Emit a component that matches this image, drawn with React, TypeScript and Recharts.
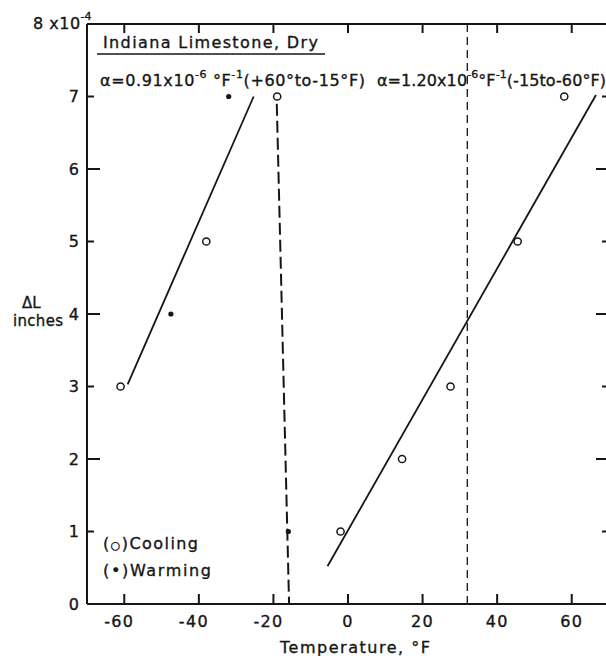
import React from "react";
import { ScatterChart, Scatter, XAxis, YAxis, ReferenceLine } from "recharts";

const xTicks = [-60, -40, -20, 0, 20, 40, 60];
const yTicks = [0, 1, 2, 3, 4, 5, 6, 7, 8];
const xDomain = [-70, 70];
const yDomain = [0, 8];

// measured points, temperature (°F) vs ΔL (x10^-4 in)
const coolingTemp = [-61, -38, -19, -2, 14.5, 27.5, 45.5, 58];
const coolingDL = [3, 5, 7, 1, 2, 3, 5, 7];
const warmingTemp = [-47.5, -32, -16];
const warmingDL = [4, 7, 1];

// fitted lines (end points)
const fitColdTemp = [-59.1, -25.3];
const fitColdDL = [3.03, 7.0];
const fitWarmTemp = [-5.5, 66.5];
const fitWarmDL = [0.52, 7.02];

// jump at the transition, and the 32°F marker
const jumpTemp = [-19.1, -15.8];
const jumpDL = [6.9, 0];
const freezeTemp = 32;

const ink = "#161616";
const font = "'DejaVu Sans', sans-serif";
const axisStroke = { stroke: ink, strokeWidth: 2 };

// chart box and plot frame
const W = 630;
const H = 656;
const margin = { top: 14, right: 11, bottom: 22, left: 27 };
const plot = { left: 87, top: 24, right: 609, bottom: 604 };

const cooling = coolingTemp.map((x, i) => ({ x, y: coolingDL[i] }));
const warming = warmingTemp.map((x, i) => ({ x, y: warmingDL[i] }));
const seg = (xs: number[], ys: number[]) => xs.map((x, i) => ({ x, y: ys[i] }));

// linear maps matching the axis domains, used for the inward tick marks
const px = (v: number) =>
  plot.left + ((v - xDomain[0]) / (xDomain[1] - xDomain[0])) * (plot.right - plot.left);
const py = (v: number) =>
  plot.bottom - ((v - yDomain[0]) / (yDomain[1] - yDomain[0])) * (plot.bottom - plot.top);
const innerY = yTicks.filter((v) => v > yDomain[0] && v < yDomain[1]);
const yLen = (v: number) => (v % 2 === 0 ? 13 : 7);

// tick marks pointing into the frame, laid over the chart
const FrameTicks = () => (
  <svg
    width={606}
    height={656}
    style={{ position: "absolute", left: 0, top: 0, pointerEvents: "none" }}
  >
    <g stroke={ink} strokeWidth={2}>
      {xTicks.map((v) => (
        <path key={`b${v}`} d={`M${px(v)},${plot.bottom}V${plot.bottom - 10}`} />
      ))}
      {xTicks.map((v) => (
        <path key={`t${v}`} d={`M${px(v)},${plot.top}V${plot.top + 9}`} />
      ))}
      {innerY.map((v) => (
        <path key={`l${v}`} d={`M${plot.left},${py(v)}H${plot.left + yLen(v)}`} />
      ))}
      {innerY.map((v) => (
        <path key={`r${v}`} d={`M${plot.right},${py(v)}H${plot.right - yLen(v)}`} />
      ))}
    </g>
  </svg>
);

const OpenDot = (p: any) => (
  <circle cx={p.cx} cy={p.cy} r={3.6} fill="#fff" stroke={ink} strokeWidth={1.5} />
);
const SolidDot = (p: any) => <circle cx={p.cx} cy={p.cy} r={2.6} fill={ink} />;

const BottomTick = (p: any) => {
  const v = p.payload.value;
  return (
    <text
      x={v < 0 ? p.x - 5 : p.x}
      y={p.y + 23}
      textAnchor="middle"
      fontSize={16}
      letterSpacing={1.3}
      fontFamily={font}
      fill={ink}
      stroke={ink}
      strokeWidth={0.35}
    >
      {v}
    </text>
  );
};

const NoLabel = () => <g />;

const LeftTick = (p: any) => {
  const v = p.payload.value;
  if (v === 8) {
    return (
      <text x={33} y={p.y + 5} fontSize={16} letterSpacing={0.5} fontFamily={font} fill={ink} stroke={ink} strokeWidth={0.35}>
        8 x10
        <tspan fontSize={11} letterSpacing={0} dy={-9}>-4</tspan>
      </text>
    );
  }
  return (
    <text x={p.x - 8} y={p.y + 5.5} textAnchor="end" fontSize={16} fontFamily={font} fill={ink} stroke={ink} strokeWidth={0.35}>
      {v}
    </text>
  );
};

const Sup = ({ children }: { children: string }) => (
  <tspan fontSize={11} dy={-8}>
    {children}
  </tspan>
);
const Base = ({ children }: { children: string }) => <tspan dy={8}>{children}</tspan>;

export default function App() {
  return (
    <div
      style={{
        position: "fixed",
        left: 0,
        top: 0,
        width: 606,
        height: 656,
        overflow: "hidden",
        background: "#fff",
      }}
    >
      <ScatterChart width={W} height={H} margin={margin}>
        <XAxis
          xAxisId="b"
          type="number"
          dataKey="x"
          domain={xDomain}
          ticks={xTicks}
          height={30}
          tickSize={0}
          tickMargin={0}
          tickLine={false}
          tick={BottomTick}
          axisLine={axisStroke}
        />
        <XAxis
          xAxisId="t"
          orientation="top"
          type="number"
          domain={xDomain}
          ticks={xTicks}
          height={10}
          tickSize={0}
          tickLine={false}
          tick={NoLabel}
          axisLine={axisStroke}
        />
        <YAxis
          yAxisId="l"
          type="number"
          dataKey="y"
          domain={yDomain}
          ticks={yTicks}
          width={60}
          tickSize={0}
          tickMargin={0}
          tickLine={false}
          tick={LeftTick}
          axisLine={axisStroke}
        />
        <YAxis
          yAxisId="r"
          orientation="right"
          type="number"
          domain={yDomain}
          ticks={yTicks}
          width={10}
          tickSize={0}
          tickLine={false}
          tick={NoLabel}
          axisLine={axisStroke}
        />

        <ReferenceLine
          xAxisId="b"
          yAxisId="l"
          x={freezeTemp}
          stroke={ink}
          strokeWidth={1.3}
          strokeDasharray="8 5"
        />
        <ReferenceLine
          xAxisId="b"
          yAxisId="l"
          segment={seg(jumpTemp, jumpDL)}
          stroke={ink}
          strokeWidth={2}
          strokeDasharray="12 5"
        />
        <ReferenceLine
          xAxisId="b"
          yAxisId="l"
          segment={seg(fitColdTemp, fitColdDL)}
          stroke={ink}
          strokeWidth={1.8}
        />
        <ReferenceLine
          xAxisId="b"
          yAxisId="l"
          segment={seg(fitWarmTemp, fitWarmDL)}
          stroke={ink}
          strokeWidth={1.8}
        />

        <Scatter xAxisId="b" yAxisId="l" data={cooling} shape={OpenDot} isAnimationActive={false} />
        <Scatter xAxisId="b" yAxisId="l" data={warming} shape={SolidDot} isAnimationActive={false} />

        <g fontFamily={font} fill={ink} stroke={ink} strokeWidth={0.35} fontSize={16}>
          <text x={103} y={48} textLength={215}>Indiana Limestone, Dry</text>
          <line x1={97} x2={325} y1={54} y2={54} strokeWidth={1.6} />
          <text x={100} y={86} textLength={265}>
            α=0.91x10<Sup>-6</Sup>
            <Base> °F</Base>
            <Sup>-1</Sup>
            <Base>(+60°to-15°F)</Base>
          </text>
          <text x={377} y={86} textLength={229}>
            α=1.20x10<Sup>-6</Sup>
            <Base>°F</Base>
            <Sup>-1</Sup>
            <Base>(-15to-60°F)</Base>
          </text>
          <text x={22} y={308} fontSize={15}>ΔL</text>
          <text x={13} y={326} fontSize={15} textLength={50}>inches</text>
          <text x={103} y={549} textLength={95}>
            (<tspan fontSize={11}>○</tspan>)Cooling
          </text>
          <text x={103} y={576} textLength={108}>(•)Warming</text>
          <text x={280} y={653} textLength={150}>Temperature, °F</text>
        </g>
      </ScatterChart>
      <FrameTicks />
    </div>
  );
}
